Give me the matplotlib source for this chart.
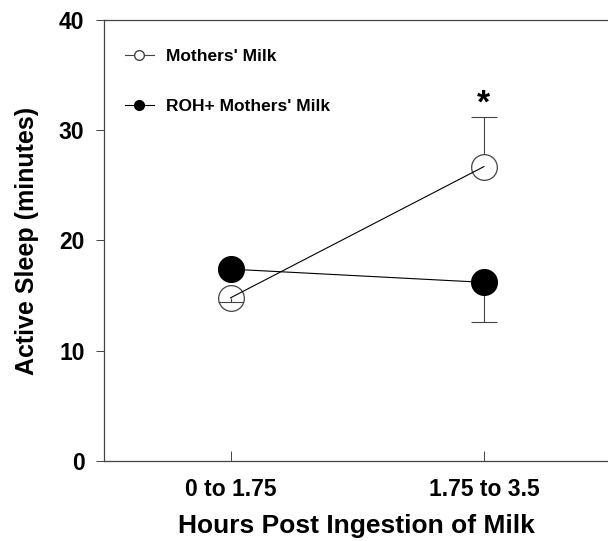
"""
Active sleep vs hours post ingestion of milk (two groups, SEM bars).
"""
import matplotlib
matplotlib.use("Agg")
import matplotlib.pyplot as plt
from matplotlib.lines import Line2D

# ── Data ─────────────────────────────────────────────────────────────────────
PERIODS = ["0 to 1.75", "1.75 to 3.5"]
MM_MEAN = [14.8, 26.7]          # Mothers' Milk
MM_ERR = [-0.35, 4.5]           # one-sided SEM (sign = direction)
ROH_MEAN = [17.4, 16.2]         # ROH + Mothers' Milk
ROH_ERR = [0.0, -3.6]
Y_TICKS = [0, 10, 20, 30, 40]
STAR_Y = 32.4

plt.rcParams["font.family"] = ["Liberation Sans", "DejaVu Sans"]
plt.rcParams["font.weight"] = "bold"

fig = plt.figure(figsize=(6.08, 5.41), dpi=100)
ax = fig.add_axes([0.171, 0.148, 0.829, 0.815])

x = list(range(len(PERIODS)))
LW = 0.8
GREY = "#444444"
CAP = 0.05      # half cap width, x data units


def _one_sided(xs, means, errs, z):
    for xi, m, e in zip(xs, means, errs):
        if e == 0:
            continue
        ax.vlines(xi, m, m + e, color=GREY, linewidth=LW, zorder=z)
        ax.hlines(m + e, xi - CAP, xi + CAP, color=GREY, linewidth=LW, zorder=z)


# error bars from the centre, hidden under the markers
_one_sided(x[1:], MM_MEAN[1:], MM_ERR[1:], 1)
_one_sided(x, ROH_MEAN, ROH_ERR, 1)

ax.plot(x, MM_MEAN, "o", markersize=18.5, markerfacecolor="white",
        markeredgecolor=GREY, markeredgewidth=0.9, zorder=2)
ax.plot(x, MM_MEAN, "-", color="black", linewidth=LW, zorder=3)
_one_sided(x[:1], MM_MEAN[:1], MM_ERR[:1], 3)
ax.plot(x, ROH_MEAN, "-o", color="black", linewidth=LW, markersize=18.5,
        markerfacecolor="black", markeredgecolor="black", zorder=4)

ax.text(x[1], STAR_Y, "*", ha="center", va="center", fontsize=24,
        fontweight="bold")

ax.set_xlim(-0.5, 1.49)
ax.set_ylim(0, 40)
ax.set_xticks(x)
ax.set_xticklabels(PERIODS, fontsize=16.5)
ax.set_yticks(Y_TICKS)
ax.set_yticklabels([str(v) for v in Y_TICKS], fontsize=16.5)
ax.tick_params(axis="x", direction="in", length=7, width=0.7, pad=12,
               colors=GREY, labelcolor="black")
ax.tick_params(axis="y", direction="out", length=6, width=0.7, pad=8,
               colors=GREY, labelcolor="black")
ax.set_xlabel("Hours Post Ingestion of Milk", fontsize=19,
              fontweight="bold", labelpad=10)
ax.set_ylabel("Active Sleep (minutes)", fontsize=18, fontweight="bold",
              labelpad=14)
for side in ("left", "bottom", "top"):
    ax.spines[side].set_linewidth(0.9)
    ax.spines[side].set_color(GREY)
ax.spines["right"].set_visible(False)

handles = [
    Line2D([], [], color=GREY, linewidth=LW, marker="o", markersize=7,
           markerfacecolor="white", markeredgecolor=GREY),
    Line2D([], [], color="black", linewidth=LW, marker="o", markersize=7,
           markerfacecolor="black"),
]
ax.legend(handles, ["Mothers' Milk", "ROH+ Mothers' Milk"], loc="upper left",
          bbox_to_anchor=(0.01, 0.97), frameon=False,
          handlelength=1.7, handletextpad=0.7, labelspacing=2.0,
          prop={"weight": "bold", "size": 12.5})

fig.savefig("out.png", dpi=100)
